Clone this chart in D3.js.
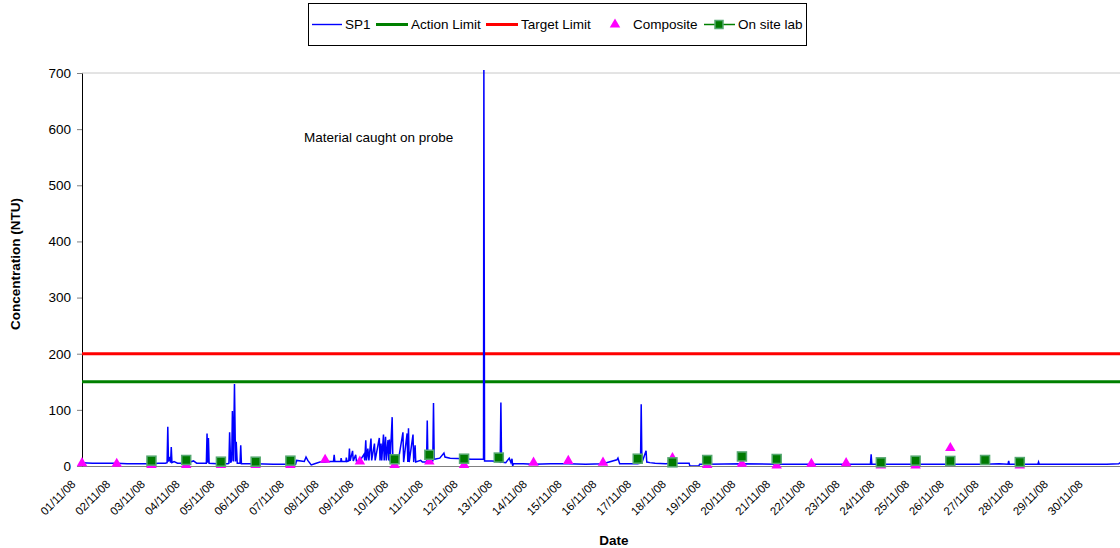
<!DOCTYPE html>
<html>
<head>
<meta charset="utf-8">
<script src="https://cdn.jsdelivr.net/npm/d3@7"></script>
<style>
  body { margin: 0; background: #fff; }
  svg { font-family: "Liberation Sans", Arial, sans-serif; }
</style>
</head>
<body>
<div id="chart"></div>
<script>
// data //
var startDate = new Date(2008, 10, 1);

// SP1 readings: [days since 01/11/08 00:00, NTU]
var sp1 = [
  [0.00, 6], [0.30, 5], [0.60, 5], [1.00, 5], [1.30, 4], [1.60, 4], [2.00, 4], [2.20, 5],
  [2.40, 5], [2.45, 6], [2.47, 70], [2.49, 8], [2.53, 16], [2.55, 6], [2.57, 34], [2.59, 6],
  [2.65, 8], [2.75, 5], [3.00, 5], [3.21, 9], [3.30, 5], [3.58, 5], [3.60, 58], [3.62, 6],
  [3.64, 50], [3.66, 5], [3.90, 4], [4.20, 4], [4.23, 5], [4.25, 60], [4.28, 6], [4.31, 10],
  [4.33, 98], [4.36, 8], [4.39, 146], [4.42, 8], [4.44, 43], [4.47, 5], [4.55, 5], [4.57, 37],
  [4.59, 4], [5.00, 4], [5.50, 3], [6.00, 3], [6.15, 3], [6.18, 10], [6.40, 8], [6.45, 16],
  [6.50, 10], [6.60, 2], [6.70, 4], [6.85, 7], [7.00, 7], [7.10, 8], [7.24, 8], [7.26, 20],
  [7.28, 8], [7.45, 8], [7.46, 14], [7.48, 8], [7.60, 8], [7.61, 15], [7.63, 8], [7.68, 9],
  [7.70, 31], [7.72, 9], [7.79, 27], [7.81, 9], [7.88, 20], [7.90, 9], [8.00, 9], [8.12, 21],
  [8.14, 10], [8.17, 46], [8.19, 10], [8.23, 31], [8.26, 10], [8.32, 49], [8.34, 10], [8.42, 40],
  [8.44, 10], [8.56, 50], [8.58, 10], [8.61, 40], [8.63, 10], [8.68, 56], [8.70, 10], [8.74, 52],
  [8.76, 10], [8.81, 46], [8.83, 10], [8.85, 47], [8.87, 8], [8.93, 87], [8.95, 8], [9.00, 7],
  [9.10, 7], [9.24, 60], [9.26, 7], [9.36, 58], [9.38, 7], [9.40, 67], [9.42, 7], [9.53, 56],
  [9.55, 7], [9.59, 37], [9.61, 7], [9.75, 10], [9.80, 7], [9.92, 7], [9.94, 81], [9.96, 8],
  [10.10, 9], [10.12, 112], [10.14, 12], [10.30, 14], [10.42, 23], [10.45, 16], [10.60, 14], [11.00, 13],
  [11.20, 12], [11.50, 12], [11.56, 12], [11.57, 720], [11.59, 9], [11.80, 9], [12.00, 8], [12.04, 7],
  [12.06, 113], [12.08, 7], [12.20, 6], [12.30, 14], [12.35, 6], [12.38, 13], [12.40, 0], [12.42, 4],
  [12.70, 4], [13.00, 3], [13.50, 4], [14.00, 4], [14.50, 3], [15.00, 4], [15.40, 11], [15.43, 14],
  [15.48, 4], [15.80, 4], [16.00, 4], [16.08, 5], [16.10, 110], [16.12, 6], [16.24, 27], [16.26, 7],
  [16.35, 6], [16.50, 5], [16.80, 4], [17.00, 5], [17.48, 5], [17.50, 0], [17.76, 0], [17.78, 3],
  [18.00, 3], [19.00, 4], [20.00, 3], [21.00, 3], [22.00, 3], [22.70, 3], [22.72, 21], [22.74, 3],
  [23.00, 3], [24.00, 3], [25.00, 3], [26.00, 3], [26.40, 4], [26.66, 3], [26.68, 9], [26.70, 3],
  [27.00, 3], [27.52, 3], [27.54, 7], [27.56, 3], [28.00, 3], [29.00, 3], [29.50, 3], [29.85, 4],
  [29.90, 6], [30.00, 11]
];

var compositeDay = [0, 1, 2, 3, 4, 5, 6, 7, 8, 9, 10, 11, 13, 14, 15, 17, 18, 19, 20, 21, 22, 23, 24, 25, 27];
var compositeValue = [5, 4, 2, 2, 2, 2, 2, 11, 8, 2, 8, 2, 6, 9, 6, 14, 2, 4, 1, 4, 5, 1, 1, 32, 1];

var labDay = [2, 3, 4, 5, 6, 9, 10, 11, 12, 16, 17, 18, 19, 20, 23, 24, 25, 26, 27];
var labValue = [9.5, 10.7, 7.7, 7.7, 9.5, 12, 20, 13, 15, 13, 6.5, 10.7, 17, 12.5, 6.5, 9.5, 9, 10.7, 7];

var actionLimit = 150;
var targetLimit = 200;
var yTicks = [0, 100, 200, 300, 400, 500, 600, 700];

function dayToDate(d) {
  return new Date(startDate.getTime() + d * 86400000);
}
var xTickDates = d3.range(0, 30).map(dayToDate);

// layout //
var W = 1120, H = 548;
var plotLeft = 82, plotRight = 1124, plotTop = 73, plotBottom = 466;

var svg = d3.select("#chart").append("svg")
  .attr("width", W)
  .attr("height", H);

var x = d3.scaleTime()
  .domain([startDate, dayToDate(30)])
  .range([plotLeft, plotRight]);

var y = d3.scaleLinear()
  .domain([0, 700])
  .range([plotBottom, plotTop]);

svg.append("defs").append("clipPath").attr("id", "plotclip")
  .append("rect")
  .attr("x", plotLeft).attr("y", plotTop - 3)
  .attr("width", plotRight - plotLeft).attr("height", plotBottom - plotTop + 3);

// top border of plot
svg.append("line")
  .attr("x1", plotLeft).attr("x2", plotRight)
  .attr("y1", y(700)).attr("y2", y(700))
  .attr("stroke", "#c8c8c8").attr("stroke-width", 1);

// x axis
var xAxis = d3.axisBottom(x)
  .tickValues(xTickDates)
  .tickFormat(d3.timeFormat("%d/%m/%y"))
  .tickSize(0)
  .tickSizeOuter(0);

var gx = svg.append("g")
  .attr("transform", "translate(0," + plotBottom + ")")
  .call(xAxis);
gx.select(".domain").attr("stroke", "#808080");
gx.selectAll("text")
  .attr("x", 0).attr("y", 0).attr("dy", "0.35em")
  .attr("transform", "translate(-9,16) rotate(-45)")
  .style("text-anchor", "end")
  .style("font-size", "11.5px")
  .style("fill", "#000");

// y axis
var yAxis = d3.axisLeft(y)
  .tickValues(yTicks)
  .tickSize(5)
  .tickSizeOuter(0)
  .tickPadding(6);

var gy = svg.append("g")
  .attr("transform", "translate(" + plotLeft + ",0)")
  .call(yAxis);
gy.select(".domain").attr("stroke", "#000");
gy.selectAll(".tick line").attr("stroke", "#808080");
gy.selectAll("text").style("font-size", "13.5px").style("fill", "#000");

// limits
svg.append("line")
  .attr("x1", plotLeft).attr("x2", plotRight)
  .attr("y1", y(targetLimit)).attr("y2", y(targetLimit))
  .attr("stroke", "#ff0000").attr("stroke-width", 3);

svg.append("line")
  .attr("x1", plotLeft).attr("x2", plotRight)
  .attr("y1", y(actionLimit)).attr("y2", y(actionLimit))
  .attr("stroke", "#008000").attr("stroke-width", 3);

// SP1
var line = d3.line()
  .x(function(d) { return x(dayToDate(d[0])); })
  .y(function(d) { return y(d[1]); });

svg.append("path")
  .datum(sp1)
  .attr("clip-path", "url(#plotclip)")
  .attr("d", line)
  .attr("fill", "none")
  .attr("stroke", "#0000ff")
  .attr("stroke-width", 1.5);

// composite triangles
var tri = d3.symbol().type(d3.symbolTriangle).size(48);
svg.selectAll(".comp")
  .data(compositeDay)
  .enter().append("path")
  .attr("class", "comp")
  .attr("d", tri)
  .attr("transform", function(d, i) {
    return "translate(" + x(dayToDate(d)) + "," + y(compositeValue[i]) + ")";
  })
  .attr("fill", "#ff00ff");

// on site lab squares
svg.selectAll(".lab")
  .data(labDay)
  .enter().append("rect")
  .attr("class", "lab")
  .attr("x", function(d) { return x(dayToDate(d)) - 4.5; })
  .attr("y", function(d, i) { return y(labValue[i]) - 4.5; })
  .attr("width", 9).attr("height", 9)
  .attr("fill", "#007a00")
  .attr("stroke", "#55a870")
  .attr("stroke-width", 1.5);

// annotation
svg.append("text")
  .attr("x", 304).attr("y", 142)
  .style("font-size", "13.5px")
  .text("Material caught on probe");

// axis titles
svg.append("text")
  .attr("transform", "translate(20,264) rotate(-90)")
  .attr("text-anchor", "middle")
  .style("font-size", "13.5px")
  .style("font-weight", "bold")
  .text("Concentration (NTU)");

svg.append("text")
  .attr("x", 614).attr("y", 545)
  .attr("text-anchor", "middle")
  .style("font-size", "13.5px")
  .style("font-weight", "bold")
  .text("Date");

// legend
var legend = svg.append("g");
legend.append("rect")
  .attr("x", 308.5).attr("y", 3.5)
  .attr("width", 498).attr("height", 42)
  .attr("fill", "#fff").attr("stroke", "#000").attr("stroke-width", 1);

var ly = 24.5;
function legendLine(x1, x2, color, w) {
  legend.append("line")
    .attr("x1", x1).attr("x2", x2).attr("y1", ly).attr("y2", ly)
    .attr("stroke", color).attr("stroke-width", w);
}
function legendText(tx, label) {
  legend.append("text")
    .attr("x", tx).attr("y", ly).attr("dy", "0.35em")
    .style("font-size", "13.5px")
    .text(label);
}
legendLine(312, 342, "#0000ff", 1.4); legendText(345, "SP1");
legendLine(376, 408, "#008000", 3);   legendText(411, "Action Limit");
legendLine(486, 518, "#ff0000", 3);   legendText(521, "Target Limit");
legend.append("path").attr("d", tri)
  .attr("transform", "translate(615," + ly + ")").attr("fill", "#ff00ff");
legendText(633, "Composite");
legendLine(704, 735, "#008000", 1.5);
legend.append("rect")
  .attr("x", 715).attr("y", ly - 4).attr("width", 8).attr("height", 8)
  .attr("fill", "#007a00").attr("stroke", "#55a870").attr("stroke-width", 1.5);
legendText(738, "On site lab");
</script>
</body>
</html>
